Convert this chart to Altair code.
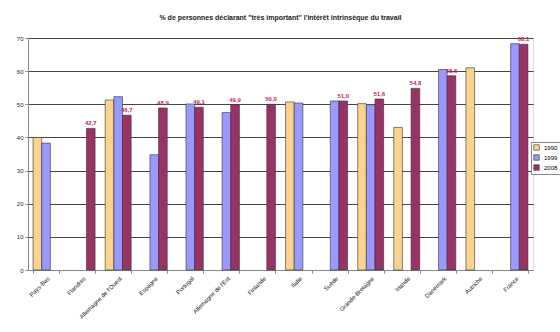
import altair as alt
import pandas as pd

categories = ["Pays-Bas", "Flandres", "Allemagne de l'Ouest", "Espagne", "Portugal",
              "Allemagne de l'Est", "Finlande", "Italie", "Suède", "Grande-Bretagne",
              "Irlande", "Danemark", "Autriche", "France"]
series = ["1990", "1999", "2008"]
v1990 = [40.0, None, 51.3, None, None, None, None, 50.7, None, 50.2, 43.0, None, 61.0, None]
v1999 = [38.3, None, 52.3, 34.8, 50.1, 47.5, None, 50.4, 51.0, 49.9, None, 60.5, None, 68.3]
v2008 = [None, 42.7, 46.7, 48.9, 49.1, 49.9, 50.0, None, 51.0, 51.6, 54.8, 58.6, None, 68.1]
y_ticks = [0, 10, 20, 30, 40, 50, 60, 70]
colors = ["#FAD48E", "#9999FF", "#993366"]

rows = []
for s, vals in zip(series, [v1990, v1999, v2008]):
    for c, v in zip(categories, vals):
        if v is not None:
            rows.append({"pays": c, "annee": s, "valeur": v,
                         "label": f"{v:.1f}".replace(".", ",")})
df = pd.DataFrame(rows)

x = alt.X("pays:N", sort=categories, title=None,
          scale=alt.Scale(paddingInner=0.28, paddingOuter=0.14),
          axis=alt.Axis(labelAngle=-45, labelFontSize=6, labelColor="#222",
                        labelFont="Liberation Sans", domainColor="#888",
                        tickColor="#888", tickSize=3, tickBand="extent",
                        labelPadding=2, labelOverlap=False))
xo = alt.XOffset("annee:N", scale=alt.Scale(domain=series))
y = alt.Y("valeur:Q", title=None,
          scale=alt.Scale(domain=[0, 70], nice=False),
          axis=alt.Axis(values=y_ticks, labelFontSize=6,
                        labelColor="#222", labelFont="Liberation Sans",
                        labelOverlap=False,
                        grid=True, gridColor="#444", gridWidth=1,
                        domainColor="#888", tickColor="#888", tickSize=3))

bars = alt.Chart(df).mark_bar(stroke="#333", strokeWidth=0.6).encode(
    x=x, xOffset=xo, y=y,
    color=alt.Color("annee:N", scale=alt.Scale(domain=series, range=colors),
                    legend=alt.Legend(title=None, orient="none", legendX=503,
                                      legendY=104, symbolType="square",
                                      symbolSize=30, symbolStrokeColor="#333",
                                      symbolStrokeWidth=0.6,
                                      labelFontSize=6, labelFont="Liberation Sans",
                                      strokeColor="#888", padding=2,
                                      rowPadding=1, fillColor="white")))

labels = alt.Chart(df[df["annee"] == "2008"]).mark_text(
    dy=-5, fontSize=6, color="#C02860", font="Liberation Sans", fontWeight="bold"
).encode(x=x, xOffset=xo, y=y, text="label:N")

chart = alt.layer(bars, labels).properties(
    width=505, height=232,
    autosize=alt.AutoSizeParams(type="none"),
    padding={"left": 28, "top": 38, "right": 27, "bottom": 62},
    title=alt.TitleParams('% de personnes déclarant "très important" l\'intérêt intrinsèque du travail',
                          fontSize=7, fontWeight="bold", font="Liberation Sans",
                          color="#222", offset=14, anchor="middle"),
).configure_view(stroke="#999", strokeWidth=1).configure(background="white")

chart.save("out.html", embed_options={"renderer": "svg", "actions": False})
